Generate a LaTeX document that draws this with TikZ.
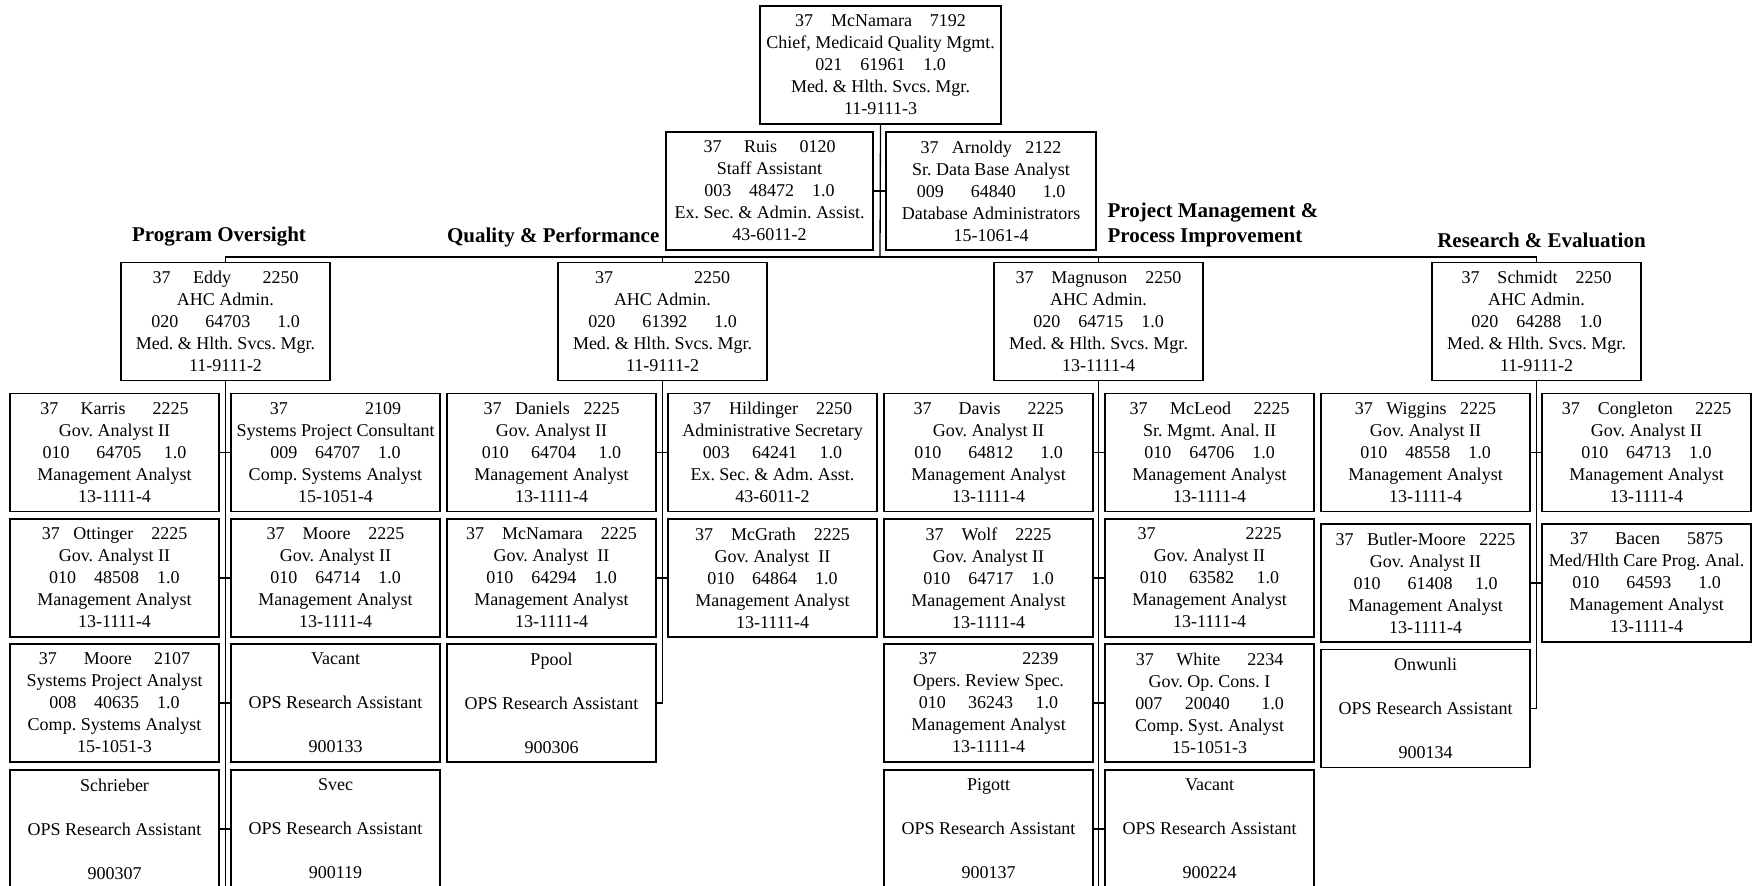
\documentclass[tikz,border=0pt]{standalone}
\usepackage{fontspec}
\setmainfont{Liberation Serif}
\frenchspacing
\begin{document}
\begin{tikzpicture}[x=0.5pt, y=-0.5pt, line width=0.65pt,
	every node/.style={font=\fontsize{9}{11}\selectfont},
	job/.style={draw, align=center, minimum width=104.5pt, minimum height=59pt, inner sep=1pt},
	grouphead/.style={font=\fontsize{10.5}{12.5}\selectfont\bfseries, inner sep=0pt}]
	% 1. 画布范围 (最下一排方框被下边缘截断)
	\clip (0,0) rectangle (1752,886);
	
	% 2. 顶层: 主管与两名直属
	\node[job, minimum width=120.5pt] (chief) at (880.5,65) {37~~~~McNamara~~~~7192\\Chief, Medicaid Quality Mgmt.\\021~~~~61961~~~~1.0\\Med. \& Hlth. Svcs. Mgr.\\11-9111-3};
	\node[job, minimum width=103.5pt] (ruis) at (769.5,191) {37~~~~~Ruis~~~~~0120\\Staff Assistant\\003~~~~48472~~~~1.0\\Ex. Sec. \& Admin. Assist.\\43-6011-2};
	\node[job, minimum width=105pt] (arnoldy) at (991,191) {37~~~Arnoldy~~~2122\\Sr. Data Base Analyst\\009~~~~~~64840~~~~~~1.0\\Database Administrators\\15-1061-4};
	\coordinate (bus) at (880,257);
	\coordinate (foot) at (0,890);
	
	% 3. 四个科室标题与科长
	\node[grouphead] (hpo) at (219,237) {Program Oversight};
	\node[grouphead, anchor=east] (hqp) at (660,237) {Quality \& Performance};
	\node[grouphead, anchor=west, align=left] (hpm) at (1107,224.5) {Project Management \&\\Process Improvement};
	\node[grouphead] (hre) at (1541.5,240) {Research \& Evaluation};
	
	\node[job] (eddy) at (225.5,321.5) {37~~~~~Eddy~~~~~~~2250\\AHC Admin.\\020~~~~~~64703~~~~~~1.0\\Med. \& Hlth. Svcs. Mgr.\\11-9111-2};
	\node[job] (qualmgr) at (662.5,321.5) {37\hspace{4.5em}2250\\AHC Admin.\\020~~~~~~61392~~~~~~1.0\\Med. \& Hlth. Svcs. Mgr.\\11-9111-2};
	\node[job] (magnuson) at (1098.5,321.5) {37~~~~Magnuson~~~~2250\\AHC Admin.\\020~~~~64715~~~~1.0\\Med. \& Hlth. Svcs. Mgr.\\13-1111-4};
	\node[job] (schmidt) at (1536.5,321.5) {37~~~~Schmidt~~~~2250\\AHC Admin.\\020~~~~64288~~~~1.0\\Med. \& Hlth. Svcs. Mgr.\\11-9111-2};
	
	% 4. Program Oversight 组员
	\node[job] (karris) at (114.5,452.5) {37~~~~~Karris~~~~~~2225\\Gov. Analyst II\\010~~~~~~64705~~~~~1.0\\Management Analyst\\13-1111-4};
	\node[job] (spcons) at (335.5,452.5) {37\hspace{4.3em}2109\\Systems Project Consultant\\009~~~~64707~~~~1.0\\Comp. Systems Analyst\\15-1051-4};
	\node[job] (ottinger) at (114.5,578) {37~~~Ottinger~~~~2225\\Gov. Analyst II\\010~~~~48508~~~~1.0\\Management Analyst\\13-1111-4};
	\node[job] (moorea) at (335.5,578) {37~~~~Moore~~~~2225\\Gov. Analyst II\\010~~~~64714~~~~1.0\\Management Analyst\\13-1111-4};
	\node[job] (mooreb) at (114.5,703) {37~~~~~~Moore~~~~~2107\\Systems Project Analyst\\008~~~~40635~~~~1.0\\Comp. Systems Analyst\\15-1051-3};
	\node[job] (vacanta) at (335.5,703) {Vacant\\[11pt]OPS Research Assistant\\[11pt]900133};
	\node[job] (schrieber) at (114.5,829) {Schrieber\\[11pt]OPS Research Assistant\\[11pt]900307};
	\node[job] (svec) at (335.5,829) {Svec\\[11pt]OPS Research Assistant\\[11pt]900119};
	
	% 5. Quality & Performance 组员
	\node[job] (daniels) at (551.5,452.5) {37~~~Daniels~~~2225\\Gov. Analyst II\\010~~~~~64704~~~~~1.0\\Management Analyst\\13-1111-4};
	\node[job] (hildinger) at (772.5,452.5) {37~~~~Hildinger~~~~2250\\Administrative Secretary\\003~~~~~64241~~~~~1.0\\Ex. Sec. \& Adm. Asst.\\43-6011-2};
	\node[job] (mcnamara) at (551.5,578) {37~~~~McNamara~~~~2225\\Gov. Analyst~~II\\010~~~~64294~~~~1.0\\Management Analyst\\13-1111-4};
	\node[job] (mcgrath) at (772.5,578) {37~~~~McGrath~~~~2225\\Gov. Analyst~~II\\010~~~~64864~~~~1.0\\Management Analyst\\13-1111-4};
	\node[job] (ppool) at (551.5,703) {Ppool\\[11pt]OPS Research Assistant\\[11pt]900306};
	
	% 6. Project Management 组员
	\node[job] (davis) at (988.5,452.5) {37~~~~~~Davis~~~~~~2225\\Gov. Analyst II\\010~~~~~~64812~~~~~~1.0\\Management Analyst\\13-1111-4};
	\node[job] (mcleod) at (1209.5,452.5) {37~~~~~McLeod~~~~~2225\\Sr. Mgmt. Anal. II\\010~~~~64706~~~~1.0\\Management Analyst\\13-1111-4};
	\node[job] (wolf) at (988.5,578) {37~~~~Wolf~~~~2225\\Gov. Analyst II\\010~~~~64717~~~~1.0\\Management Analyst\\13-1111-4};
	\node[job] (govan) at (1209.5,578) {37\hspace{5em}2225\\Gov. Analyst II\\010~~~~~63582~~~~~1.0\\Management Analyst\\13-1111-4};
	\node[job] (opsrev) at (988.5,703) {37\hspace{4.75em}2239\\Opers. Review Spec.\\010~~~~~36243~~~~~1.0\\Management Analyst\\13-1111-4};
	\node[job] (white) at (1209.5,703) {37~~~~~White~~~~~~2234\\Gov. Op. Cons. I\\007~~~~~20040~~~~~~~1.0\\Comp. Syst. Analyst\\15-1051-3};
	\node[job] (pigott) at (988.5,829) {Pigott\\[11pt]OPS Research Assistant\\[11pt]900137};
	\node[job] (vacantb) at (1209.5,829) {Vacant\\[11pt]OPS Research Assistant\\[11pt]900224};
	
	% 7. Research & Evaluation 组员
	\node[job] (wiggins) at (1425.5,452.5) {37~~~Wiggins~~~2225\\Gov. Analyst II\\010~~~~48558~~~~1.0\\Management Analyst\\13-1111-4};
	\node[job] (congleton) at (1646.5,452.5) {37~~~~Congleton~~~~~2225\\Gov. Analyst II\\010~~~~64713~~~~1.0\\Management Analyst\\13-1111-4};
	\node[job] (butler) at (1425.5,583) {37~~~Butler-Moore~~~2225\\Gov. Analyst II\\010~~~~~~61408~~~~~1.0\\Management Analyst\\13-1111-4};
	\node[job] (bacen) at (1646.5,583) {37~~~~~~Bacen~~~~~~5875\\Med/Hlth Care Prog. Anal.\\010~~~~~~64593~~~~~~1.0\\Management Analyst\\13-1111-4};
	\node[job] (onwunli) at (1425.5,708.5) {Onwunli\\[11pt]OPS Research Assistant\\[11pt]900134};
	
	% 8. 连线: 总线、直属横线、各组竖干线与横挡
	\draw (chief.south) -- (bus);
	\draw (ruis.east) -- (arnoldy.west);
	\draw (eddy.north) -- (eddy.north |- bus) -- (schmidt.north |- bus) -- (schmidt.north);
	\draw (qualmgr.north) -- (qualmgr.north |- bus);
	\draw (magnuson.north) -- (magnuson.north |- bus);
	
	\draw (eddy.south) -- (eddy.south |- foot);
	\draw (magnuson.south) -- (magnuson.south |- foot);
	\draw (qualmgr.south) |- (ppool.east);
	\draw (schmidt.south) |- (onwunli.east);
	
	\draw (karris.east) -- (spcons.west);
	\draw (ottinger.east) -- (moorea.west);
	\draw (mooreb.east) -- (vacanta.west);
	\draw (schrieber.east) -- (svec.west);
	\draw (daniels.east) -- (hildinger.west);
	\draw (mcnamara.east) -- (mcgrath.west);
	\draw (davis.east) -- (mcleod.west);
	\draw (wolf.east) -- (govan.west);
	\draw (opsrev.east) -- (white.west);
	\draw (pigott.east) -- (vacantb.west);
	\draw (wiggins.east) -- (congleton.west);
	\draw (butler.east) -- (bacen.west);
\end{tikzpicture}
\end{document}
